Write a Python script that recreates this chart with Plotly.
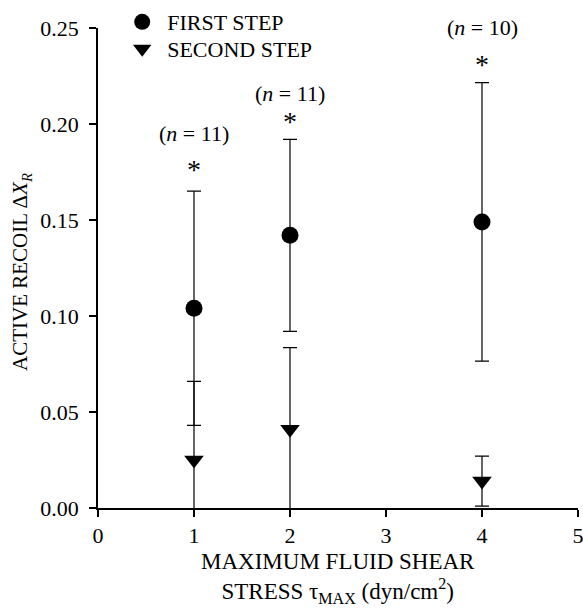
import plotly.graph_objects as go

# data
shear = [1, 2, 4]
first_mean = [0.104, 0.142, 0.149]
first_err = [0.061, 0.050, 0.0725]
second_mean = [0.025, 0.041, 0.014]
second_err = [0.041, 0.0425, 0.013]
n_labels = ["(<i>n</i> = 11)", "(<i>n</i> = 11)", "(<i>n</i> = 10)"]
star_y = [0.178, 0.203, 0.233]
nlabel_y = [0.194, 0.215, 0.249]
x_ticks = [0, 1, 2, 3, 4, 5]
y_ticks = [0.00, 0.05, 0.10, 0.15, 0.20, 0.25]
x_title = "MAXIMUM FLUID SHEAR<br>STRESS τ<sub>MAX</sub> (dyn/cm<sup>2</sup>)"
y_title = "ACTIVE RECOIL Δ<i>X</i><sub><i>R</i></sub>"

FONT = "Liberation Serif"
FS = 22

fig = go.Figure()
fig.add_trace(go.Scatter(
    x=shear, y=first_mean, mode="markers", name="FIRST STEP", legend="legend",
    marker=dict(symbol="circle", size=17, color="black"),
    error_y=dict(type="data", array=first_err, visible=True, color="black", thickness=1.2, width=7),
))
fig.add_trace(go.Scatter(
    x=shear, y=second_mean, mode="markers", name="SECOND STEP", legend="legend2",
    marker=dict(symbol="triangle-down", size=17, color="black"),
    error_y=dict(type="data", array=second_err, visible=True, color="black", thickness=1.2, width=7),
))

for xv, sy, ny, lab in zip(shear, star_y, nlabel_y, n_labels):
    fig.add_annotation(x=xv, y=sy, text="*", showarrow=False, xanchor="center", yanchor="middle",
                       height=20, valign="top", yshift=2,
                       font=dict(family=FONT, size=28, color="black"))
    fig.add_annotation(x=xv, y=ny, text=lab, showarrow=False, xanchor="center", yanchor="middle",
                       yshift=2, font=dict(family=FONT, size=FS, color="black"))

# axis titles as annotations (paper area = 583 x 508 px, plot area top at 28 px)
fig.add_annotation(xref="paper", yref="paper", x=0.5, y=-0.138, text=x_title, showarrow=False,
                   xanchor="center", yanchor="middle", font=dict(family=FONT, size=23, color="black"))
fig.add_annotation(xref="paper", yref="paper", x=-0.160, y=0.465, text=y_title, showarrow=False,
                   textangle=-90, xanchor="center", yanchor="middle",
                   font=dict(family=FONT, size=21, color="black"))

leg_common = dict(xanchor="left", yanchor="middle", bgcolor="rgba(0,0,0,0)",
                  font=dict(family=FONT, size=FS, color="black"), itemsizing="trace", itemwidth=40)

fig.update_layout(
    width=583, height=611,
    margin=dict(l=98, r=5, t=0, b=103, autoexpand=False),
    paper_bgcolor="white", plot_bgcolor="white",
    font=dict(family=FONT, size=FS, color="black"),
    showlegend=True,
    legend=dict(x=0.040, y=0.9567, **leg_common),
    legend2=dict(x=0.040, y=0.9035, **leg_common),
    xaxis=dict(range=[0, 5], tickvals=x_ticks, ticktext=[str(v) for v in x_ticks],
               showgrid=False, zeroline=False, showline=True, linecolor="black", linewidth=1.5,
               ticks="outside", ticklen=7, tickwidth=1.5, tickcolor="black",
               ticklabeloverflow="allow", tickfont=dict(family=FONT, size=FS)),
    yaxis=dict(range=[0, 0.25], domain=[0, 480 / 508], tickvals=y_ticks,
               ticktext=[f"{v:.2f}" for v in y_ticks],
               showgrid=False, zeroline=False, showline=True, linecolor="black", linewidth=1.5,
               ticks="outside", ticklen=7, tickwidth=1.5, tickcolor="black",
               ticklabelstandoff=6, tickfont=dict(family=FONT, size=FS)),
)

fig.write_html("out.html")
